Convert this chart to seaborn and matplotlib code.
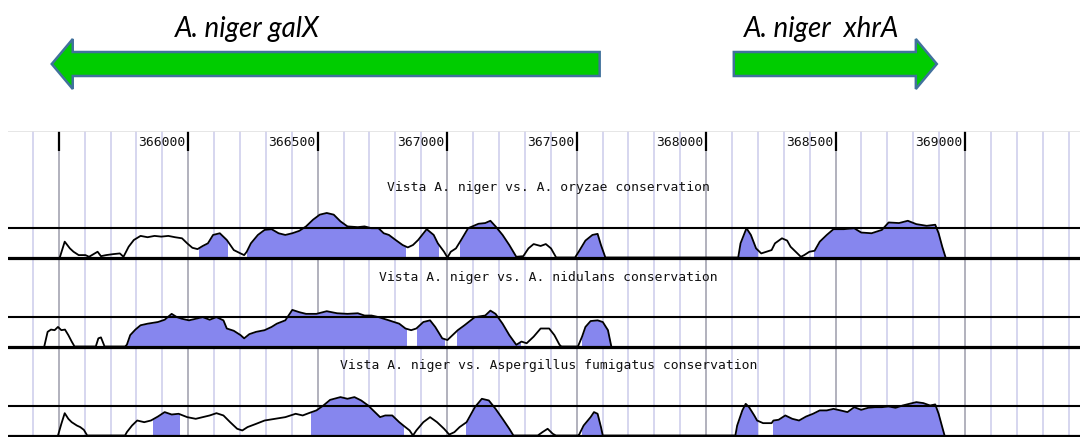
import matplotlib
matplotlib.use("Agg")
import matplotlib.pyplot as plt
from matplotlib.patches import Rectangle
import pandas as pd
import seaborn as sns

# ---------------- data ----------------
gene_names = ["A. niger galX", "A. niger  xhrA"]
gene_tail = [367589, 368107]          # bp, arrow tail
gene_tip = [365473, 368891]           # bp, arrow head tip
gene_label_pos = [366227, 368447]     # bp, label centre

tick_pos = [366000, 366500, 367000, 367500, 368000, 368500, 369000]
tick_labels = ["366000", "366500", "367000", "367500", "368000", "368500", "369000"]

oryzae_pos = [365504, 365523, 365543, 365557, 365577, 365603, 365617, 365650, 365663, 365683,
              365710, 365736, 365750, 365770, 365790, 365816, 365843, 365870, 365896, 365923,
              365949, 365976, 365996, 366016, 366036, 366056, 366076, 366096, 366122, 366149,
              366176, 366202, 366216, 366226, 366242, 366269, 366295, 366322, 366349, 366375,
              366402, 366429, 366455, 366482, 366508, 366535, 366562, 366588, 366615, 366655,
              366681, 366708, 366735, 366755, 366775, 366801, 366828, 366848, 366868, 366888,
              366921, 366948, 366964, 366988, 367001, 367014, 367034, 367054, 367081, 367121,
              367147, 367167, 367187, 367214, 367240, 367267, 367294, 367314, 367334, 367361,
              367381, 367401, 367421, 367494, 367508, 367534, 367561, 367581, 367594, 367611,
              368124, 368133, 368156, 368173, 368193, 368213, 368233, 368253, 368266, 368293,
              368313, 368326, 368346, 368366, 368379, 368399, 368419, 368439, 368466, 368492,
              368532, 368572, 368599, 368639, 368679, 368705, 368745, 368779, 368812, 368852,
              368885, 368898, 368912, 368925]
oryzae_pct = [50.0, 63.2, 57.6, 54.8, 52.0, 52.0, 50.6, 54.8, 51.1, 52.0,
              52.8, 53.4, 50.6, 59.0, 64.6, 68.0, 66.9, 68.0, 67.4, 68.0,
              66.9, 66.0, 61.8, 58.1, 57.0, 59.6, 61.8, 68.8, 70.2, 64.6,
              56.2, 53.4, 52.0, 54.8, 61.8, 68.8, 73.0, 73.6, 70.2, 68.8,
              70.2, 72.2, 75.9, 81.5, 85.7, 87.1, 85.7, 80.1, 75.9, 75.3,
              75.9, 74.4, 74.4, 70.2, 68.8, 64.6, 60.4, 58.4, 60.4, 64.6,
              73.6, 68.8, 61.8, 54.8, 50.0, 54.8, 57.6, 64.6, 74.4, 78.1,
              78.7, 80.6, 75.9, 68.8, 60.4, 50.6, 51.1, 57.6, 61.2, 59.6,
              61.2, 57.6, 50.0, 50.0, 54.8, 64.1, 68.8, 69.7, 60.4, 50.0,
              50.0, 61.8, 74.4, 68.8, 57.6, 53.4, 54.8, 56.2, 61.8, 66.0,
              64.1, 59.0, 54.8, 50.6, 52.0, 54.8, 55.6, 63.2, 68.8, 73.6,
              73.6, 74.4, 70.8, 70.2, 73.0, 79.2, 78.7, 80.6, 77.8, 76.4,
              77.3, 70.2, 59.0, 50.0]
oryzae_cns = [(366043, 366149), (366226, 366839), (366892, 366964), (367051, 367267),
              (367505, 367611), (368124, 368197), (368415, 368925)]

nidulans_pos = [365444, 365457, 365470, 365484, 365497, 365510, 365524, 365537, 365550, 365561,
                365643, 365653, 365663, 365677, 365756, 365763, 365776, 365796, 365816, 365843,
                365883, 365909, 365936, 365956, 365976, 366003, 366029, 366056, 366083, 366109,
                366136, 366149, 366176, 366202, 366216, 366236, 366262, 366295, 366322, 366342,
                366375, 366402, 366429, 366455, 366495, 366535, 366575, 366615, 366655, 366681,
                366708, 366735, 366775, 366815, 366839, 366861, 366881, 366908, 366934, 366954,
                366981, 367001, 367021, 367041, 367067, 367107, 367147, 367167, 367187, 367214,
                367240, 367267, 367287, 367307, 367334, 367361, 367394, 367414, 367434, 367441,
                367505, 367521, 367534, 367554, 367581, 367601, 367621, 367634]
nidulans_pct = [50.0, 62.2, 64.1, 63.6, 66.3, 63.6, 64.1, 59.5, 54.1, 50.0,
                50.0, 56.8, 57.6, 50.0, 50.0, 51.4, 59.5, 64.1, 67.7, 69.0,
                70.4, 72.3, 77.2, 74.5, 73.1, 71.8, 73.1, 74.5, 72.3, 74.5,
                71.8, 65.0, 63.1, 59.5, 56.8, 60.3, 62.2, 63.6, 66.3, 69.0,
                71.8, 80.5, 78.6, 77.2, 77.2, 79.4, 77.7, 77.2, 77.7, 75.8,
                75.8, 74.5, 71.8, 69.0, 65.0, 63.6, 65.0, 70.4, 71.8, 66.3,
                56.8, 55.4, 59.5, 63.6, 67.7, 74.5, 75.8, 79.9, 77.2, 69.0,
                59.5, 51.4, 54.1, 52.7, 58.2, 65.0, 65.0, 59.5, 51.4, 50.0,
                50.0, 58.2, 66.3, 71.2, 71.8, 70.4, 63.6, 50.0]
nidulans_cns = [(365763, 366841), (366884, 366988), (367038, 367281), (367521, 367634)]

fumigatus_pos = [365497, 365510, 365523, 365537, 365550, 365570, 365583, 365597, 365610, 365756,
                 365763, 365783, 365803, 365830, 365856, 365883, 365909, 365936, 365963, 365996,
                 366029, 366056, 366083, 366109, 366136, 366162, 366189, 366209, 366229, 366262,
                 366295, 366335, 366375, 366415, 366442, 366469, 366495, 366522, 366548, 366588,
                 366615, 366642, 366668, 366695, 366721, 366741, 366761, 366788, 366815, 366831,
                 366855, 366868, 366881, 366908, 366934, 366961, 366988, 367008, 367028, 367048,
                 367075, 367107, 367134, 367161, 367187, 367214, 367240, 367256, 367350, 367368,
                 367388, 367408, 367420, 367505, 367508, 367527, 367554, 367567, 367581, 367594,
                 367601, 368113, 368120, 368140, 368153, 368166, 368186, 368197, 368220, 368253,
                 368260, 368280, 368306, 368333, 368359, 368386, 368413, 368439, 368466, 368492,
                 368519, 368546, 368572, 368599, 368626, 368652, 368679, 368705, 368732, 368759,
                 368785, 368812, 368839, 368865, 368885, 368898, 368912, 368921]
fumigatus_pct = [50.0, 59.7, 68.6, 63.9, 61.1, 58.3, 57.0, 54.7, 50.0, 50.0,
                 52.8, 58.3, 62.5, 61.1, 62.5, 65.8, 69.5, 67.5, 68.1, 65.3,
                 63.9, 65.3, 66.7, 68.6, 66.7, 61.1, 55.6, 54.2, 57.0, 59.7,
                 62.5, 63.9, 65.3, 68.1, 66.7, 68.9, 70.9, 75.0, 79.7, 82.0,
                 80.6, 82.0, 79.2, 75.0, 69.5, 65.3, 66.7, 66.7, 61.1, 58.3,
                 54.2, 50.0, 54.2, 61.1, 65.3, 61.1, 55.6, 50.8, 52.8, 57.0,
                 61.1, 73.6, 80.6, 79.2, 72.2, 63.9, 55.6, 50.0, 50.0, 52.8,
                 55.6, 51.4, 50.0, 50.0, 50.0, 58.3, 65.3, 69.5, 68.1, 57.0,
                 50.0, 50.0, 58.3, 70.9, 76.4, 73.6, 66.7, 62.5, 60.3, 60.3,
                 62.5, 63.1, 66.7, 63.9, 62.5, 65.8, 68.1, 70.9, 70.9, 72.2,
                 70.9, 69.5, 73.6, 71.4, 73.1, 73.6, 73.6, 74.2, 73.1, 75.0,
                 76.4, 77.8, 77.0, 75.0, 75.9, 68.1, 57.0, 50.0]
fumigatus_cns = [(365863, 365963), (366475, 366831), (367071, 367254), (367521, 367601),
                 (368113, 368197), (368260, 368921)]

track_titles = ["Vista A. niger vs. A. oryzae conservation",
                "Vista A. niger vs. A. nidulans conservation",
                "Vista A. niger vs. Aspergillus fumigatus conservation"]

# ---------------- style ----------------
sns.set_style("white")
plt.rcParams["font.family"] = ["DejaVu Sans"]

W, H = 1080, 437
XLIM = (365304, 369444)
FILL = "#8686EE"
GRID = "#D3D3EE"
GRID_MAJOR = "#ABABB8"
MONO = "DejaVu Sans Mono"

fig = plt.figure(figsize=(W / 100, H / 100), dpi=100)
fig.patch.set_facecolor("white")

def frac_box(left_px, top_px, width_px, height_px):
    return [left_px / W, (H - top_px - height_px) / H, width_px / W, height_px / H]

# browser panel with coordinate ruler and grid
ax_bg = fig.add_axes(frac_box(8, 131, 1072, 306))
ax_bg.set_xlim(XLIM)
ax_bg.set_ylim(0, 1)
ax_bg.axis("off")
for p in range(365400, 369500, 100):
    major = p % 500 == 0
    ax_bg.axvline(p, color=GRID_MAJOR if major else GRID, lw=1.3, zorder=0)
    if major:
        ax_bg.plot([p, p], [1.0, 0.935], color="black", lw=1.6, zorder=2,
                   solid_capstyle="butt")
ax_bg.axhline(1.0, color="#E2E2E2", lw=1.2)
for p, lab in zip(tick_pos, tick_labels):
    ax_bg.text(p - 10, 0.962, lab, ha="right", va="center", family=MONO,
               fontsize=9.4, color="#111111")

# gene arrows
ax_gene = fig.add_axes(frac_box(8, 0, 1072, 120))
ax_gene.set_xlim(XLIM)
ax_gene.set_ylim(120, 0)
ax_gene.axis("off")
for name, tail, tip, lx in zip(gene_names, gene_tail, gene_tip, gene_label_pos):
    ax_gene.arrow(tail, 64, tip - tail, 0, width=24, head_width=50, head_length=81,
                  length_includes_head=True, fc="#00CC00", ec="#41719C", lw=1.8)
    ax_gene.text(lx, 37, name, ha="center", va="baseline", style="italic",
                 family="Lato", fontsize=20, color="black")

# conservation tracks
tracks = [(oryzae_pos, oryzae_pct, oryzae_cns),
          (nidulans_pos, nidulans_pct, nidulans_cns),
          (fumigatus_pos, fumigatus_pct, fumigatus_cns)]
for k, ((pos, pct, cns), title) in enumerate(zip(tracks, track_titles)):
    base_px = 257.5 + 89 * k
    ax = fig.add_axes(frac_box(8, base_px - 85, 1072, 89))
    ax.set_xlim(XLIM)
    ax.set_ylim(50 - 4 / 1.2, 50 + 85 / 1.2)
    ax.set_facecolor("none")
    df = pd.DataFrame({"pos": pos, "pct": pct})
    for s, e in cns:
        band = ax.fill_between(df["pos"], 50, df["pct"], color=FILL, lw=0, zorder=1)
        band.set_clip_path(Rectangle((s, 40), e - s, 90, transform=ax.transData))
    sns.lineplot(data=df, x="pos", y="pct", ax=ax, color="black", lw=1.3,
                 estimator=None, sort=False, zorder=2)
    ax.axhline(75, color="black", lw=1.5, zorder=3)
    ax.axhline(50, color="black", lw=2.3, zorder=3)
    ax.text(0.504, 50 + 69.5 / 1.2, title, transform=ax.get_yaxis_transform(),
            ha="center", va="center", family=MONO, fontsize=9.4, color="#111111")
    ax.axis("off")

fig.savefig("out.png", dpi=100)
